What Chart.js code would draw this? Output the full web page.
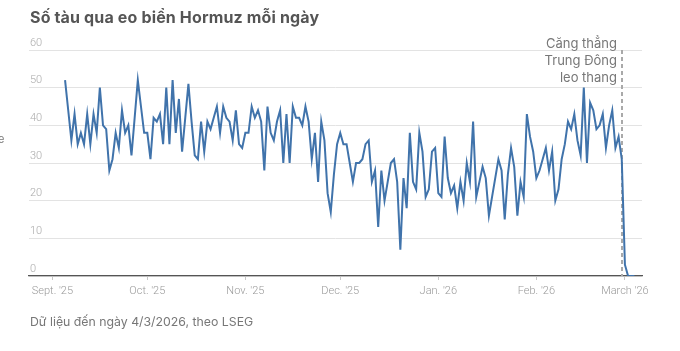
<!DOCTYPE html>
<html><head><meta charset="utf-8">
<script src="https://cdn.jsdelivr.net/npm/chart.js@4.4.1/dist/chart.umd.min.js"></script>
<style>
html,body{margin:0;padding:0;width:680px;height:351px;overflow:hidden;background:#fff;}
#wrap{position:absolute;left:0;top:0;width:680px;height:351px;}
#title{position:absolute;left:30px;top:7px;font:700 16px Inter, sans-serif;color:#555;white-space:nowrap;letter-spacing:0.15px;}
#note{position:absolute;left:30px;top:314px;font:400 12.3px Inter, sans-serif;color:#777;white-space:nowrap;}
#edge{position:absolute;left:-2px;top:132px;font:400 11px Inter, sans-serif;color:#777;}
</style></head><body>
<div id="wrap"><canvas id="c" width="680" height="351"></canvas></div>
<div id="title">Số tàu qua eo biển Hormuz mỗi ngày</div>
<div id="note">Dữ liệu đến ngày 4/3/2026, theo LSEG</div>
<div id="edge">e</div>
<script>
// ---- data ----
const firstDate = '2025-09-05';   // date of first value, one value per day
const shipsPerDay = [
  52,44,36,43,35,38,35,43,35,43,
  38,50,40,39,28,31,38,34,44,38,
  40,32,42,52,45,38,38,31,42,41,
  43,35,50,35,52,38,47,33,42,51,
  41,32,31,41,33,41,39,42,45,38,
  45,42,41,36,44,35,34,38,38,45,
  42,44,41,28,45,38,36,41,44,30,
  43,30,45,42,42,40,45,41,31,38,
  25,41,36,22,17,27,35,38,35,35,
  30,25,30,30,31,35,36,25,28,13,
  28,20,25,30,31,25,7,26,18,38,
  25,23,38,33,21,23,33,34,22,21,
  37,26,22,24,18,25,20,30,25,41,
  21,25,29,26,16,21,26,31,28,15,
  27,34,29,16,25,21,43,37,33,26,
  28,31,34,28,33,20,23,31,35,41,
  39,43,36,32,50,30,46,44,39,40,
  43,34,40,44,34,37,31,3,0,0,
  0
];
const monthStarts = ['2025-09-01','2025-10-01','2025-11-01','2025-12-01','2026-01-01','2026-02-01','2026-03-01'];
const monthLabels = ["Sept. '25","Oct. '25","Nov. '25","Dec. '25","Jan. '26","Feb. '26","March '26"];
const yTickValues = [0,10,20,30,40,50,60];
const eventDate = '2026-02-28';
const eventLabel = ['Căng thẳng','Trung Đông','leo thang'];

// ---- helpers ----
const DAY = 86400000;
const dayIdx = d => Math.round((Date.parse(d) - Date.parse(firstDate)) / DAY);
const points = shipsPerDay.map((v, i) => ({x: i, y: v}));

const eventPlugin = {
  id: 'eventMarker',
  beforeDatasetsDraw(chart) {
    const {ctx, chartArea, scales: {x}} = chart;
    const px = Math.round(x.getPixelForValue(dayIdx(eventDate)));
    ctx.save();
    ctx.strokeStyle = '#a9a9a9';
    ctx.lineWidth = 2;
    ctx.setLineDash([4, 3]);
    ctx.beginPath();
    ctx.moveTo(px, chartArea.top);
    ctx.lineTo(px, chartArea.bottom);
    ctx.stroke();
    ctx.restore();
  },
  afterDatasetsDraw(chart) {
    const {ctx, chartArea, scales: {x}} = chart;
    const px = Math.round(x.getPixelForValue(dayIdx(eventDate)));
    ctx.save();
    ctx.fillStyle = '#777';
    ctx.font = '400 13px Inter, sans-serif';
    ctx.textAlign = 'right';
    ctx.textBaseline = 'middle';
    eventLabel.forEach((t, i) => ctx.fillText(t, px - 5, chartArea.top - 6 + i * 17));
    ctx.restore();
  }
};

Chart.defaults.font.family = 'Roboto, sans-serif';

new Chart(document.getElementById('c'), {
  type: 'line',
  data: {
    datasets: [{
      data: points,
      borderColor: '#4073ab',
      borderWidth: 2,
      pointRadius: 0,
      tension: 0,
      fill: false
    }]
  },
  options: {
    responsive: false,
    animation: false,
    devicePixelRatio: 1,
    layout: {padding: {left: 29, right: 38, top: 50, bottom: 0}},
    plugins: {legend: {display: false}, tooltip: {enabled: false}},
    scales: {
      x: {
        type: 'linear',
        min: dayIdx(monthStarts[0]) - 7.4,
        max: dayIdx(monthStarts[6]) + 5.4,
        afterBuildTicks: s => { s.ticks = monthStarts.map(d => ({value: dayIdx(d)})); },
        afterFit: s => { s.height = 75; },
        ticks: {
          autoSkip: false, maxRotation: 0, padding: 5,
          color: '#999', font: {size: 11, weight: 300},
          callback: (v, i) => monthLabels[i]
        },
        grid: {drawOnChartArea: false, drawTicks: true, tickLength: 4, color: '#c8c8c8'},
        border: {display: true, color: '#555', width: 1.2}
      },
      y: {
        min: 0, max: 60,
        afterBuildTicks: s => { s.ticks = yTickValues.map(v => ({value: v})); },
        afterFit: s => { s.width = 0; },
        ticks: {
          mirror: true, padding: 1, labelOffset: -7,
          color: '#aaa', font: {size: 11, weight: 300}
        },
        grid: {color: '#e3e3e3', lineWidth: 1, drawTicks: false},
        border: {display: false}
      }
    }
  },
  plugins: [eventPlugin]
});
</script>
</body></html>
